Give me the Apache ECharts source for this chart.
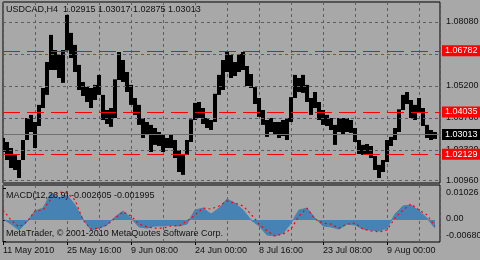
<!DOCTYPE html>
<html><head><meta charset="utf-8">
<script src="https://cdn.jsdelivr.net/npm/echarts@6/dist/echarts.min.js"></script>
<style>html,body{margin:0;padding:0;background:#a8a8a8}#c{width:480px;height:260px}</style>
</head><body><div id="c"></div>
<script>
// ---- data ----
const symbolName = 'USDCAD,H4';
const lastOHLC = ['1.02915', '1.03017', '1.02875', '1.03013'];
const barsPerSlot = 4;   // each sample covers 4 H4 bars
const slotHighs = [1.0286,1.0268,1.0241,1.0210,1.0187,1.0277,1.0376,1.0390,1.0358,1.0435,
  1.0511,1.0628,1.0750,1.0682,1.0660,1.0682,1.0840,1.0759,1.0705,1.0615,
  1.0538,1.0516,1.0511,1.0525,1.0570,1.0480,1.0412,1.0421,1.0550,1.0673,
  1.0637,1.0583,1.0525,1.0466,1.0435,1.0376,1.0358,1.0345,1.0331,1.0313,
  1.0300,1.0286,1.0300,1.0277,1.0232,1.0210,1.0277,1.0370,1.0444,1.0448,
  1.0421,1.0376,1.0367,1.0485,1.0570,1.0637,1.0673,1.0660,1.0628,1.0664,
  1.0673,1.0610,1.0574,1.0515,1.0466,1.0412,1.0367,1.0376,1.0358,1.0358,
  1.0367,1.0376,1.0470,1.0570,1.0556,1.0570,1.0525,1.0466,1.0493,1.0448,
  1.0412,1.0390,1.0376,1.0345,1.0376,1.0376,1.0376,1.0367,1.0331,1.0277,
  1.0255,1.0259,1.0250,1.0205,1.0165,1.0187,1.0277,1.0291,1.0331,1.0415,
  1.0480,1.0493,1.0457,1.0435,1.0466,1.0421,1.0345,1.0322,1.0313];
const slotLows = [1.0223,1.0187,1.0151,1.0142,1.0106,1.0187,1.0277,1.0313,1.0241,1.0340,
  1.0421,1.0480,1.0592,1.0592,1.0556,1.0534,1.0680,1.0646,1.0583,1.0502,
  1.0475,1.0448,1.0421,1.0457,1.0480,1.0367,1.0349,1.0336,1.0376,1.0547,
  1.0538,1.0493,1.0435,1.0390,1.0345,1.0286,1.0300,1.0223,1.0255,1.0250,
  1.0223,1.0241,1.0241,1.0196,1.0133,1.0120,1.0210,1.0268,1.0367,1.0376,
  1.0349,1.0331,1.0322,1.0358,1.0480,1.0502,1.0583,1.0556,1.0565,1.0583,
  1.0592,1.0520,1.0511,1.0439,1.0381,1.0345,1.0291,1.0313,1.0300,1.0286,
  1.0295,1.0277,1.0358,1.0466,1.0493,1.0489,1.0448,1.0390,1.0421,1.0367,
  1.0345,1.0340,1.0322,1.0255,1.0313,1.0304,1.0313,1.0309,1.0268,1.0214,
  1.0210,1.0214,1.0196,1.0142,1.0106,1.0133,1.0178,1.0250,1.0277,1.0313,
  1.0412,1.0439,1.0376,1.0367,1.0403,1.0340,1.0286,1.0277,1.0282];
const timeLabels = ['11 May 2010','25 May 16:00','9 Jun 08:00','24 Jun 00:00','8 Jul 16:00','23 Jul 08:00','9 Aug 00:00'];
const barsPerLabel = 64;
const barsPerGrid = 32;
const totalBars = 437;
const priceTicks = [1.08080, 1.06640, 1.05200, 1.03760, 1.02320, 1.00960];
const levelPrices = [1.06782, 1.04035, 1.02129];
const currentPrice = 1.03013;
const macdName = 'MACD(12,26,9)';
const macdStep = 8;      // each MACD sample covers 8 H4 bars
const macdHist = [0.0003,-0.0013,-0.0032,-0.0006,0.0029,0.0038,0.0086,0.0070,0.0080,0.0048,
  0.0003,-0.0032,-0.0026,-0.0016,0.0010,0.0029,0.0006,-0.0022,-0.0026,-0.0019,
  -0.0019,-0.0016,-0.0019,-0.0013,0.0032,0.0038,0.0019,0.0038,0.0067,0.0054,
  0.0032,0,-0.0019,-0.0048,-0.0051,-0.0042,-0.0010,0.0032,0.0038,0.0006,
  -0.0019,-0.0022,-0.0029,-0.0013,-0.0016,-0.0029,-0.0032,-0.0035,-0.0026,0.0019,
  0.0045,0.0048,0.0029,0.0006,-0.002605];
const macdSignal = [0.0032,0,-0.0022,-0.0006,0.0029,0.0032,0.0067,0.0090,0.0086,0.0064,
  0,-0.0029,-0.0026,-0.0016,0.0006,0.0026,0.0013,-0.0013,-0.0022,-0.0026,
  -0.0026,-0.0019,-0.0019,-0.0003,0.0016,0.0038,0.0035,0.0045,0.0061,0.0054,
  0.0045,0.0019,-0.0013,-0.0035,-0.0051,-0.0045,-0.0029,0.0013,0.0038,0.0003,
  -0.0010,-0.0013,-0.0026,-0.0013,-0.0010,-0.0029,-0.0035,-0.0038,-0.0032,0.0006,
  0.0032,0.0051,0.0032,0.0016,-0.001995];
const macdTicks = [0.01026, 0, -0.0068];
const macdTickLabels = ['0.01026', '0.00', '-0.00680'];
const copyrightText = 'MetaTrader, \u00a9 2001-2010 MetaQuotes Software Corp.';

// ---- styles ----
const FONT = "'Liberation Sans', Arial, sans-serif";
const BG = '#a8a8a8';
const TXT = '#111';
const GRIDC = '#5e5e5e';

const bandData = slotHighs.map((v, k) => [k * barsPerSlot, slotLows[k], v]);
const histData = macdHist.map((v, j) => [j * macdStep, v]);
const sigData = macdSignal.map((v, j) => [j * macdStep, v]);

const chart = echarts.init(document.getElementById('c'), null, {renderer: 'canvas'});
const txt = {fontFamily: FONT, fontSize: 9, color: TXT, fontWeight: 'normal'};

function gridAxisX(gi) {
  return {type: 'value', gridIndex: gi, min: 0, max: totalBars, interval: barsPerGrid,
    axisLine: {show: false}, axisTick: {show: false}, axisLabel: {show: false},
    splitLine: {show: true, lineStyle: {color: GRIDC, type: [3, 3], width: 1}}};
}

// each sample = the high..low span of its group of H4 bars, drawn as one column
function renderSlot(params, api) {
  const x = api.value(0);
  const hi = api.coord([x - barsPerSlot / 2, api.value(2)]);
  const lo = api.coord([x - barsPerSlot / 2, api.value(1)]);
  const w = api.size([barsPerSlot, 0])[0];
  return {
    type: 'rect',
    shape: {x: hi[0], y: hi[1], width: w, height: Math.max(1, lo[1] - hi[1])},
    style: {fill: '#000'}
  };
}

chart.setOption({
  animation: false,
  backgroundColor: BG,
  title: [
    {text: symbolName + '  ' + lastOHLC.join(' '), left: 6, top: 5, padding: 0, textStyle: txt},
    {text: macdName + ' ' + macdHist[macdHist.length - 1].toFixed(6) + ' ' + macdSignal[macdSignal.length - 1].toFixed(6),
      left: 6, top: 191, padding: 0, textStyle: txt},
    {text: copyrightText, left: 6, top: 229, padding: 0, textStyle: txt}
  ],
  grid: [
    {left: 3, top: 2, width: 437, height: 181, show: true, borderColor: '#000', borderWidth: 1,
      containLabel: false, outerBoundsMode: 'none'},
    {left: 3, top: 185, width: 437, height: 57, show: true, borderColor: '#000', borderWidth: 1,
      containLabel: false, outerBoundsMode: 'none'}
  ],
  xAxis: [
    gridAxisX(0),
    gridAxisX(1),
    {type: 'value', gridIndex: 1, position: 'bottom', min: 0, max: totalBars, interval: barsPerLabel,
      axisLine: {show: false},
      axisTick: {show: true, length: 3, lineStyle: {color: '#000'}},
      splitLine: {show: false},
      axisLabel: {show: true, align: 'left', margin: 4, showMaxLabel: false,
        fontFamily: FONT, fontSize: 9, color: TXT,
        formatter: v => { const i = v / barsPerLabel; return Number.isInteger(i) && timeLabels[i] ? timeLabels[i] : ''; }}}
  ],
  yAxis: [
    {type: 'value', gridIndex: 0, position: 'right', min: 1.00835, max: 1.0898,
      axisLine: {show: false}, splitLine: {show: false},
      axisTick: {show: true, length: 3, customValues: priceTicks, lineStyle: {color: '#000'}},
      axisLabel: {show: true, customValues: priceTicks, margin: 6, fontFamily: FONT, fontSize: 9, color: TXT,
        formatter: v => v.toFixed(5)}},
    {type: 'value', gridIndex: 1, position: 'right', min: -0.00704, max: 0.0112,
      axisLine: {show: false}, splitLine: {show: false},
      axisTick: {show: true, length: 3, customValues: macdTicks, lineStyle: {color: '#000'}},
      axisLabel: {show: true, customValues: macdTicks, margin: 6, fontFamily: FONT, fontSize: 9, color: TXT,
        formatter: v => {
          let i = macdTicks.findIndex(t => Math.abs(t - v) < 1e-7);
          if (i < 0) return '';
          const cls = i === 0 ? 'top' : (i === macdTicks.length - 1 ? 'bot' : 'mid');
          return '{' + cls + '|' + macdTickLabels[i] + '}';
        },
        rich: {
          top: {fontFamily: FONT, fontSize: 9, color: TXT, padding: [10, 0, 0, 0]},
          mid: {fontFamily: FONT, fontSize: 9, color: TXT, padding: [0, 0, 2, 0]},
          bot: {fontFamily: FONT, fontSize: 9, color: TXT, padding: [0, 0, 11, 0]}
        }}}
  ],
  series: [
    // horizontal price grid
    {type: 'line', xAxisIndex: 0, yAxisIndex: 0, data: [], z: 1, silent: true,
      markLine: {silent: true, precision: 5, symbol: ['none', 'none'], label: {show: false},
        lineStyle: {color: GRIDC, type: [3, 3], width: 1},
        data: priceTicks.map(v => ({yAxis: v}))}},
    // current price line
    {type: 'line', xAxisIndex: 0, yAxisIndex: 0, data: [], z: 1, silent: true,
      markLine: {silent: true, precision: 5, symbol: ['none', 'none'],
        lineStyle: {color: '#707070', type: 'solid', width: 1},
        label: {show: true, position: 'end', distance: 2, formatter: p => p.value.toFixed(5),
          backgroundColor: '#000', color: '#fff', fontFamily: FONT, fontSize: 9, lineHeight: 10, padding: [1, 3, 0, 3]},
        data: [{yAxis: currentPrice}]}},
    // price bars
    {type: 'custom', xAxisIndex: 0, yAxisIndex: 0, data: bandData, z: 3, silent: true,
      renderItem: renderSlot, encode: {x: 0, y: [1, 2]}, clip: true},
    // red levels
    {type: 'line', xAxisIndex: 0, yAxisIndex: 0, data: [], z: 5, silent: true,
      markLine: {silent: true, precision: 5, symbol: ['none', 'none'],
        lineStyle: {color: '#ff0000', type: [17, 7], width: 1},
        label: {show: true, position: 'end', distance: 2, formatter: p => p.value.toFixed(5),
          backgroundColor: '#ff0000', color: '#fff', fontFamily: FONT, fontSize: 9, lineHeight: 10, padding: [1, 3, 0, 3]},
        data: levelPrices.map(v => ({yAxis: v}))}},
    // MACD histogram
    {type: 'line', xAxisIndex: 1, yAxisIndex: 1, data: histData, symbol: 'none', z: 2,
      lineStyle: {color: '#4682b4', width: 1}, areaStyle: {color: '#4682b4', opacity: 1}},
    // MACD signal
    {type: 'line', xAxisIndex: 1, yAxisIndex: 1, data: sigData, symbol: 'none', z: 3,
      lineStyle: {color: '#ff0000', type: [2, 3], width: 1.2}}
  ]
});
</script>
</body></html>
